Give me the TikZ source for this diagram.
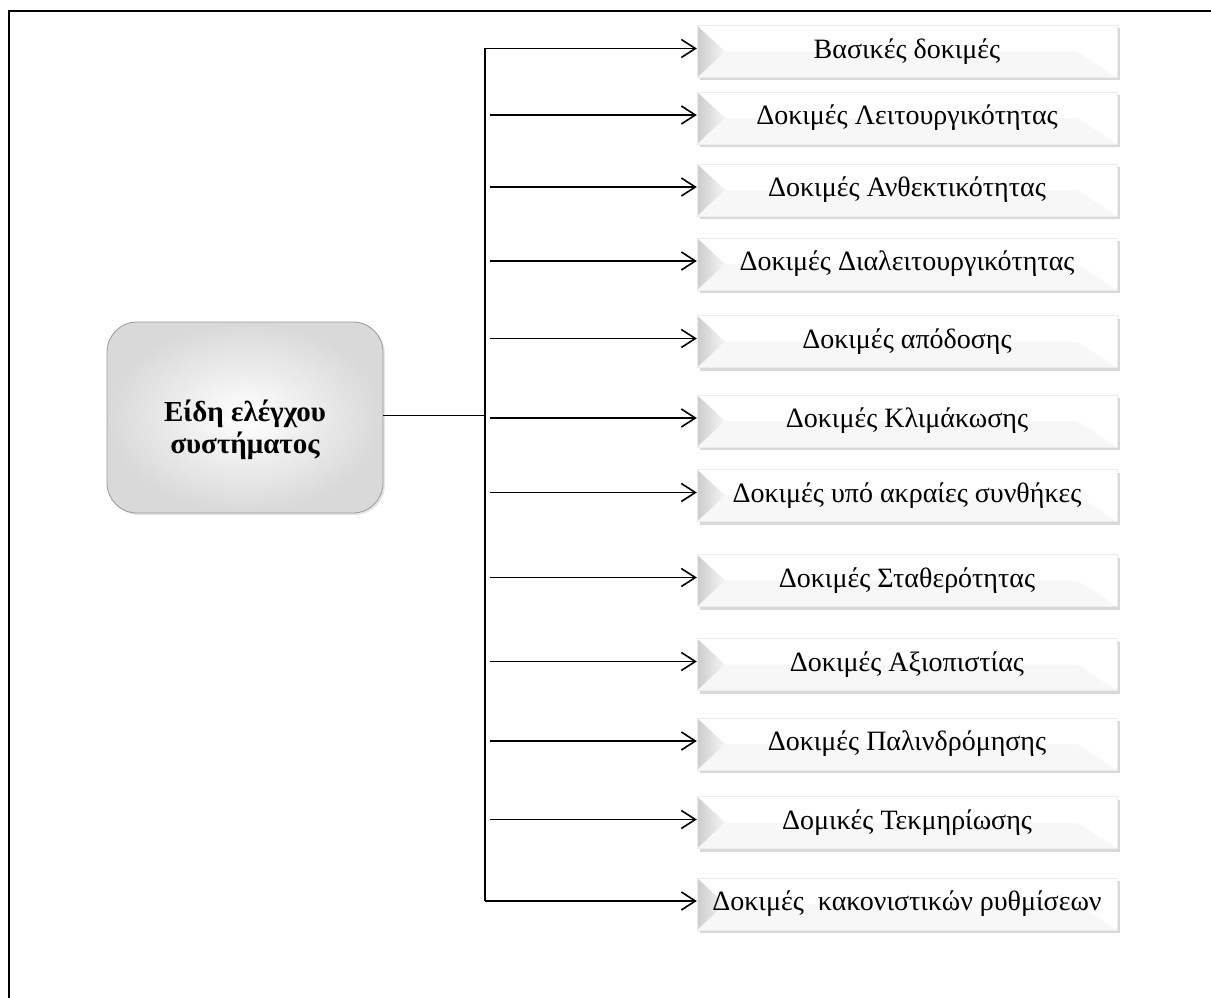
\documentclass[tikz,border=0pt]{standalone}
\usepackage{fontspec}
\setmainfont{Liberation Serif}
\usetikzlibrary{arrows.meta,shadows,calc}

\tikzset{
  conn/.style={line width=1.8pt, black},
  arr/.style={-{Straight Barb[length=14pt,width=18pt,line width=1.6pt]}},
  testbox/.style={
    minimum width=420pt, minimum height=52pt, inner sep=0pt,
    fill=white, draw=gray!15, line width=0.4pt,
    drop shadow={shadow xshift=3pt, shadow yshift=-3pt, opacity=0.3},
    font=\fontsize{28}{32}\selectfont,
    path picture={
      \fill[gray!6] ($(path picture bounding box.west)+(28pt,0)$)
        -- ($(path picture bounding box.east)+(-40pt,0)$)
        -- (path picture bounding box.south east)
        -- (path picture bounding box.south west) -- cycle;
      \shade[left color=gray!40, right color=gray!8]
        (path picture bounding box.north west)
        -- ($(path picture bounding box.west)+(28pt,0)$)
        -- (path picture bounding box.south west) -- cycle;
    }},
  hubbox/.style={
    rounded corners=30pt, minimum width=276pt, minimum height=191pt,
    inner sep=0pt, draw=gray!80, line width=0.8pt,
    shading=radial, inner color=white, outer color=gray!30,
    drop shadow={shadow xshift=2pt, shadow yshift=-2pt, opacity=0.2}},
  hubtext/.style={align=center, inner sep=0pt,
    font=\bfseries\fontsize{29}{33}\selectfont}
}

\begin{document}
\begin{tikzpicture}[x=1pt,y=-1pt]
\useasboundingbox (0,0) rectangle (1211,998);
% outer frame
\draw[line width=2pt] (1211,11) -- (9,11) -- (9,998);

% central node and its caption
\node[hubbox] (hub) at (245,417.5) {};
\node[hubtext] (hubt) at ([yshift=-12pt]hub.center) {Είδη ελέγχου\\[-1pt]συστήματος};

% test categories
\node[testbox] (b1)  at (907,51.5)  {Βασικές δοκιμές};
\node[testbox] (b2)  at (907,118)   {Δοκιμές Λειτουργικότητας};
\node[testbox] (b3)  at (907,190)   {Δοκιμές Ανθεκτικότητας};
\node[testbox] (b4)  at (907,264)   {Δοκιμές Διαλειτουργικότητας};
\node[testbox] (b5)  at (907,341.5) {Δοκιμές απόδοσης};
\node[testbox] (b6)  at (907,421)   {Δοκιμές Κλιμάκωσης};
\node[testbox] (b7)  at (907,495.5) {Δοκιμές υπό ακραίες συνθήκες};
\node[testbox] (b8)  at (907,580.5) {Δοκιμές Σταθερότητας};
\node[testbox] (b9)  at (907,664.5) {Δοκιμές Αξιοπιστίας};
\node[testbox] (b10) at (907,744)   {Δοκιμές Παλινδρόμησης};
\node[testbox] (b11) at (907,822.5) {Δομικές Τεκμηρίωσης};
\node[testbox] (b12) at (907,904)   {Δοκιμές\ \ κακονιστικών ρυθμίσεων};

% bus and arrows
\coordinate (bx) at (485,0);
\coordinate (hs) at ([yshift=2pt]hub.east);
\foreach \i in {1,...,12}{
  \coordinate (t\i) at ([yshift=3pt]b\i.west);
}
\draw[conn] (hs) -- (bx |- hs);
\draw[conn,arr] (bx |- t12) -- (bx |- t1) -- (t1);
\draw[conn,arr] (bx |- t12) -- (t12);
\foreach \i in {2,...,11}{
  \draw[conn,arr] ([xshift=5pt]bx |- t\i) -- (t\i);
}
\end{tikzpicture}
\end{document}
